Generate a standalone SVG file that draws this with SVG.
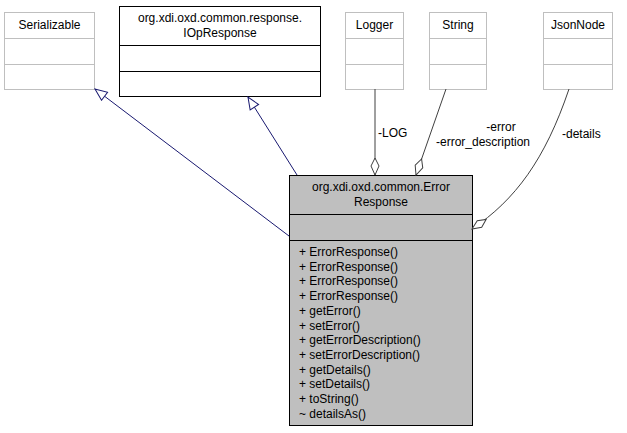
<svg xmlns="http://www.w3.org/2000/svg" width="627" height="433" viewBox="0 0 627 433">
<style>
text{font-family:"Liberation Sans",Arial,sans-serif;font-size:12px;fill:#000}
.g{fill:#fff;stroke:#bfbfbf}
.k{fill:#fff;stroke:#000}
.m{fill:#bfbfbf;stroke:#000}
.inh{stroke:#191970;fill:none}
.agg{stroke:#404040;fill:none}
</style>
<defs>
<marker id="tri" markerWidth="14" markerHeight="12" refX="13" refY="6" orient="auto" markerUnits="userSpaceOnUse"><path d="M1,1 L13,6 L1,11 Z" fill="#fff" stroke="#191970"/></marker>
<marker id="dia" markerWidth="20" markerHeight="10" refX="18" refY="5" orient="auto" markerUnits="userSpaceOnUse"><path d="M1,5 L9,1 L18,5 L9,9 Z" fill="#fff" stroke="#404040"/></marker>
</defs>
<g id="Serializable"><rect class="g" x="4.5" y="12.5" width="90" height="77"/><line class="g" x1="4.5" y1="38.5" x2="94.5" y2="38.5"/><line class="g" x1="4.5" y1="64.5" x2="94.5" y2="64.5"/><text x="49.5" y="29" text-anchor="middle">Serializable</text></g>
<g id="IOpResponse"><rect class="k" x="119.5" y="6.5" width="201" height="90"/><line class="k" x1="119.5" y1="45.5" x2="320.5" y2="45.5"/><line class="k" x1="119.5" y1="71.5" x2="320.5" y2="71.5"/><text x="220" y="22" text-anchor="middle">org.xdi.oxd.common.response.</text><text x="220" y="37" text-anchor="middle">IOpResponse</text></g>
<g id="Logger"><rect class="g" x="345.5" y="12.5" width="58" height="77"/><line class="g" x1="345.5" y1="38.5" x2="403.5" y2="38.5"/><line class="g" x1="345.5" y1="64.5" x2="403.5" y2="64.5"/><text x="374.5" y="29" text-anchor="middle">Logger</text></g>
<g id="String"><rect class="g" x="429.5" y="12.5" width="57" height="77"/><line class="g" x1="429.5" y1="38.5" x2="486.5" y2="38.5"/><line class="g" x1="429.5" y1="64.5" x2="486.5" y2="64.5"/><text x="458" y="29" text-anchor="middle">String</text></g>
<g id="JsonNode"><rect class="g" x="543.5" y="12.5" width="69" height="77"/><line class="g" x1="543.5" y1="38.5" x2="612.5" y2="38.5"/><line class="g" x1="543.5" y1="64.5" x2="612.5" y2="64.5"/><text x="578" y="29" text-anchor="middle">JsonNode</text></g>
<g id="ErrorResponse"><rect class="m" x="289.5" y="175.5" width="183" height="250"/><line class="m" x1="289.5" y1="214.5" x2="472.5" y2="214.5"/><line class="m" x1="289.5" y1="240.5" x2="472.5" y2="240.5"/>
<text x="381" y="191" text-anchor="middle">org.xdi.oxd.common.Error</text><text x="381" y="206" text-anchor="middle">Response</text>
<text x="299" y="256">+ ErrorResponse()</text><text x="299" y="270.7">+ ErrorResponse()</text><text x="299" y="285.4">+ ErrorResponse()</text><text x="299" y="300.1">+ ErrorResponse()</text><text x="299" y="314.8">+ getError()</text><text x="299" y="329.5">+ setError()</text><text x="299" y="344.2">+ getErrorDescription()</text><text x="299" y="358.9">+ setErrorDescription()</text><text x="299" y="373.6">+ getDetails()</text><text x="299" y="388.3">+ setDetails()</text><text x="299" y="403">+ toString()</text><text x="299" y="417.7">~ detailsAs()</text></g>
<g id="connectors">
<path class="inh" d="M289,236 L95,89" marker-end="url(#tri)"/>
<path class="inh" d="M297,175 L248,97" marker-end="url(#tri)"/>
<path class="agg" d="M375,89 L375,175" marker-end="url(#dia)"/>
<path class="agg" d="M446,89 L416,175" marker-end="url(#dia)"/>
<path class="agg" d="M569,89 C545,160 515,200 472,229" marker-end="url(#dia)"/>
<text x="378" y="137">-LOG</text>
<text x="501" y="131" text-anchor="middle">-error</text>
<text x="483" y="146" text-anchor="middle">-error_description</text>
<text x="562" y="138">-details</text>
</g>
</svg>
